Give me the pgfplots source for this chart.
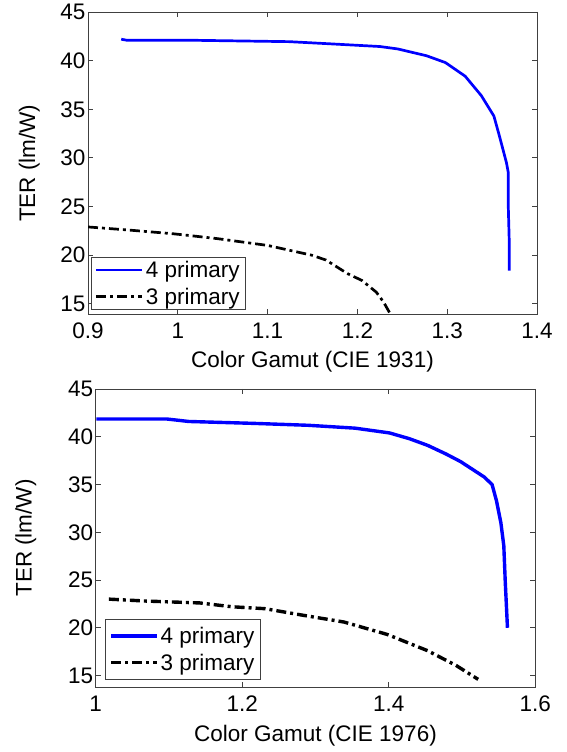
\documentclass[border=0pt]{standalone}
\usepackage{fontspec}
\setmainfont{Liberation Sans}
\usepackage{pgfplots}
\pgfplotsset{compat=1.18}

\pgfplotsset{
  matlab/.style={
    scale only axis,
    axis line style={black!75, line width=0.8pt},
    tick style={black!75, line width=0.8pt},
    tick align=inside,
    major tick length=5pt,
    tick label style={font=\fontsize{22.5}{26}\selectfont},
    label style={font=\fontsize{22.5}{26}\selectfont},
    xticklabel style={yshift=-5pt},
    yticklabel style={xshift=1pt},
    /pgf/number format/assume math mode=true,
    ytick={15,20,...,45}, ymax=45,
    ylabel={TER (lm/W)},
    legend cell align=left,
    legend style={draw=black!75, line width=0.8pt, anchor=south west,
      font=\fontsize{22.5}{26}\selectfont, row sep=5pt, inner xsep=4pt},
    legend image code/.code={\draw[#1, line cap=butt] (0pt,0pt) -- (46pt,0pt);},
  },
}

\begin{document}
\begin{tikzpicture}
\useasboundingbox (0,0) rectangle (567pt,752pt);

% top: CIE 1931
\begin{axis}[matlab,
  at={(88pt,437.5pt)}, anchor=south west, width=449pt, height=302.5pt,
  xmin=0.9, xmax=1.4, ymin=13.9, xtick={0.9,1,...,1.4},
  xlabel={Color Gamut (CIE 1931)},
  x label style={at={(axis description cs:0.5,-0.156)}, anchor=center},
  y label style={at={(axis description cs:-0.131,0.5)}, anchor=center},
  legend style={at={(axis description cs:0.006,0.015)}, inner ysep=2pt},
]
\addplot[blue, line width=2.7pt, line join=round] coordinates {
 (0.937,42.2) (0.943,42.1) (1.011,42.1) (1.124,41.95) (1.165,41.75)
 (1.225,41.45) (1.245,41.2) (1.277,40.5) (1.298,39.8) (1.320,38.4)
 (1.338,36.4) (1.352,34.3) (1.358,32.3) (1.366,29.5) (1.368,28.5)
 (1.368,25.1) (1.369,21.7) (1.369,18.4)};
\addlegendentry{4 primary}
\addplot[black, line width=2.7pt, line cap=butt, dash pattern=on 10pt off 4pt on 3pt off 4pt] coordinates {
 (0.900,22.9) (0.943,22.6) (0.995,22.2) (1.044,21.7) (1.100,21.0)
 (1.149,20.0) (1.165,19.5) (1.189,18.1) (1.205,17.4) (1.221,16.2)
 (1.229,15.2) (1.237,13.9)};
\addlegendentry{3 primary}
\end{axis}

% bottom: CIE 1976
\begin{axis}[matlab,
  at={(95.7pt,65pt)}, anchor=south west, width=439.6pt, height=298pt,
  xmin=1, xmax=1.6, ymin=13.8, xtick={1,1.2,1.4,1.6},
  xlabel={Color Gamut (CIE 1976)},
  x label style={at={(axis description cs:0.5,-0.165)}, anchor=center},
  y label style={at={(axis description cs:-0.159,0.5)}, anchor=center},
  legend style={at={(axis description cs:0.021,0.0235)}, inner ysep=6pt},
]
\addplot[blue, line width=3.4pt, line join=round] coordinates {
 (1.001,41.86) (1.097,41.86) (1.127,41.6) (1.216,41.4) (1.290,41.2)
 (1.354,40.9) (1.401,40.4) (1.428,39.8) (1.453,39.1) (1.478,38.2)
 (1.498,37.4) (1.517,36.45) (1.530,35.8) (1.541,35.0) (1.547,33.3)
 (1.553,31.0) (1.557,28.6) (1.559,24.8) (1.562,20.0)};
\addlegendentry{4 primary}
\addplot[black, line width=3.4pt, line cap=butt, dash pattern=on 10pt off 4pt on 3pt off 4pt] coordinates {
 (1.018,23.0) (1.068,22.8) (1.142,22.6) (1.186,22.2) (1.231,22.0)
 (1.280,21.35) (1.339,20.6) (1.398,19.3) (1.453,17.6) (1.492,16.05)
 (1.522,14.6)};
\addlegendentry{3 primary}
\end{axis}
\end{tikzpicture}
\end{document}
